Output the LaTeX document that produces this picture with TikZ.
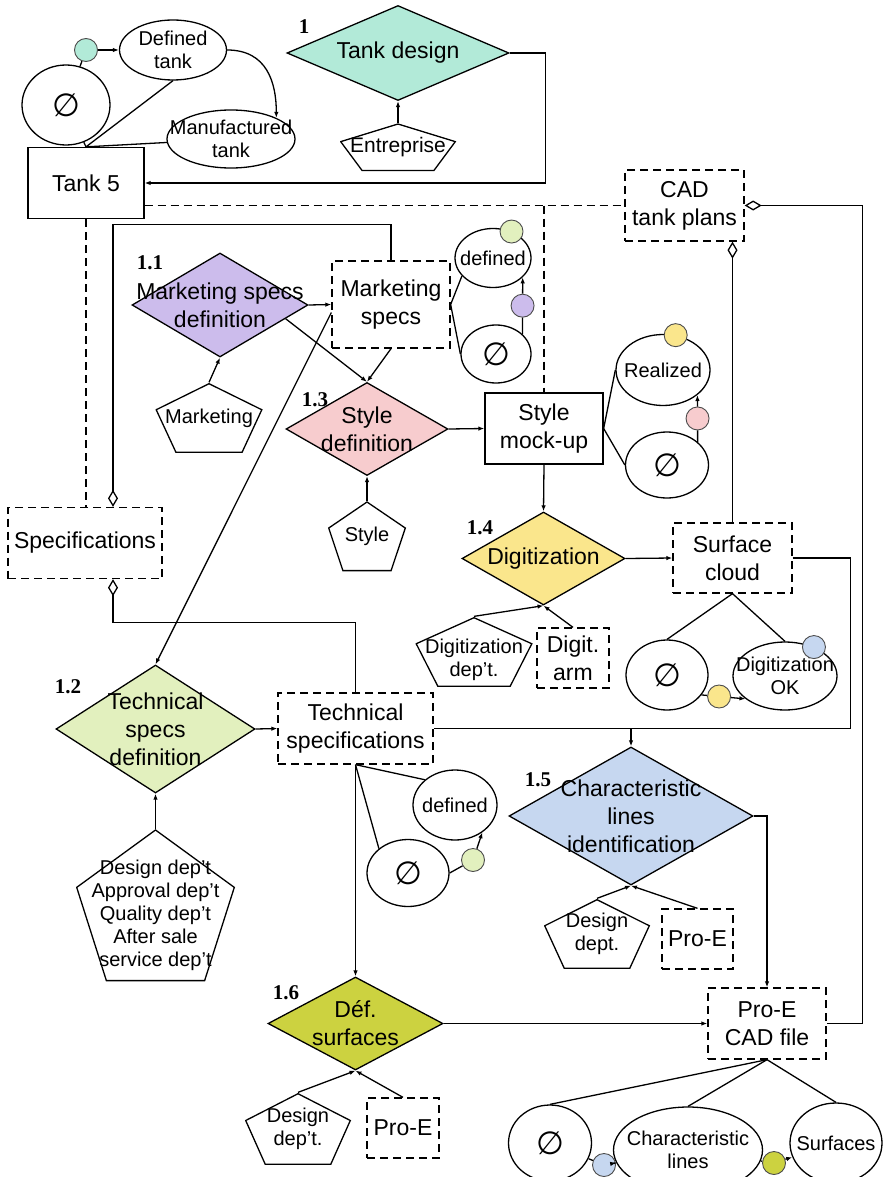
\documentclass[tikz,border=0pt]{standalone}
\usepackage{fontspec}
\setmainfont{Liberation Sans}
\newfontfamily\numfont{Liberation Serif}
\newfontfamily\symfont{DejaVu Sans}
\usetikzlibrary{shapes.geometric,arrows.meta,positioning,calc}
\definecolor{cTank}{RGB}{178,234,216}
\definecolor{cMkt}{RGB}{204,188,236}
\definecolor{cTech}{RGB}{226,240,190}
\definecolor{cStyle}{RGB}{247,204,206}
\definecolor{cDigit}{RGB}{250,230,140}
\definecolor{cLines}{RGB}{198,215,240}
\definecolor{cSurf}{RGB}{204,210,64}
\newcommand{\bigtxt}{\fontsize{23pt}{28pt}\selectfont}
\newcommand{\smtxt}{\fontsize{20pt}{23pt}\selectfont}
\newcommand{\pbb}{path picture bounding box}
\tikzset{
  proc/.style={diamond, draw, inner xsep=-80pt, inner ysep=-40pt, align=center, font=\bigtxt},
  procnum/.style={font=\numfont\fontsize{21pt}{21pt}\selectfont\bfseries, inner sep=0pt},
  obj/.style={rectangle, draw, inner sep=0pt, align=center, font=\bigtxt},
  docobj/.style={obj, dash pattern=on 8pt off 5pt},
  state/.style={ellipse, draw, inner xsep=-60pt, inner ysep=-30pt, align=center, font=\smtxt},
  nul/.style={state, font=\symfont\fontsize{32pt}{32pt}\selectfont},
  dot/.style={circle, draw=black!70, line width=0.9pt, minimum size=23pt, inner sep=0pt},
  actor/.style={rectangle, inner sep=0pt, align=center, font=\smtxt,
    path picture={\draw ($(\pbb.north)+(0,-0.7pt)$)
      -- ($(\pbb.north east)!0.382!(\pbb.south east)+(-0.7pt,0)$)
      -- ($(\pbb.south west)!0.809!(\pbb.south east)+(0,0.7pt)$)
      -- ($(\pbb.south west)!0.191!(\pbb.south east)+(0,0.7pt)$)
      -- ($(\pbb.north west)!0.382!(\pbb.south west)+(0.7pt,0)$) -- cycle;}},
  actortext/.style={inner sep=0pt, align=center, font=\smtxt},
  sz/.style 2 args={minimum width=#1pt, minimum height=#2pt},
  link/.style={dash pattern=on 8pt off 5pt},
  agg/.style={{Diamond[open,length=17pt,width=10pt]}-},
}

\begin{document}
\begin{tikzpicture}[x=1pt, y=1pt, line width=1.3pt, >={Latex[length=6pt,width=4.5pt]}]
\useasboundingbox (0,0) rectangle (885,-1177);

% 1 tank design
\node[proc, fill=cTank, sz={222}{95}] (d1) at (398,-53) {Tank design};
\node[procnum] (n1) at (304,-27) {1};
\node[actor, sz={116}{48}, font=\fontsize{21pt}{25pt}\selectfont, below=21.5pt of d1] (ent) {Entreprise};
\node[obj, sz={116}{71}] (t5) at (86,-183) {Tank 5};
\node[nul, sz={88}{80}] (t5n) at (66,-105) {∅};
\node[state, sz={107}{60}] (t5d) at (173,-50) {Defined\\tank};
\node[state, sz={128}{58}] (t5m) at (231,-139) {Manufactured\\tank};
\node[dot, fill=cTank] (t5c) at (86,-50) {};
\draw (t5.north) -- (t5n);
\draw (t5.north) -- (t5d.south);
\draw (t5.north) -- (t5m);
\draw (t5n) -- (t5c);
\draw[->] (t5c) -- (t5d);
\draw[->] (t5d.east) .. controls +(40pt,0pt) and +(0pt,35pt) .. (t5m.25);
\draw[->] (ent.north) -- (d1.south);
\draw[->] (d1.east) -- ++(36,0) |- (t5.east);

% CAD plans and specifications
\node[docobj, sz={119}{71}] (cad) at (684.5,-205.5) {CAD\\tank plans};
\node[docobj, sz={154}{71}] (spec) at (85,-543) {Specifications};
\draw[link] (cad.west -| t5.east) -- (cad.west);
\draw[link] (t5.south) -- (t5.south |- spec.north);

% 1.1 marketing specs
\node[proc, fill=cMkt, sz={176}{104}] (d11) at (220,-305) {Marketing specs\\definition};
\node[procnum] (n11) at (150,-263) {1.1};
\node[actor, sz={107}{70}] (mkt) at (209,-418) {Marketing};
\node[docobj, sz={118}{87}] (ms) at (391,-304.5) {Marketing\\specs};
\node[state, sz={76}{59}] (msd) at (493,-258) {defined};
\node[nul, sz={70}{58}] (msn) at (496,-354) {∅};
\draw[->] (mkt.north) -- (d11.south);
\draw[->] (d11.east) -- (ms.west);
\draw (ms.east) -- (msd.210);
\draw (ms.east) -- (msn.west);
\node[dot, fill=cMkt] (msc) at ($(msn.37)!0.5!(msd.-33)$) {};
\draw (msn.37) -- (msc);
\draw[->] (msc) -- (msd.-33);
\node[dot, fill=cTech] (msc2) at (msd.55) {};
\draw[agg] ([xshift=28pt]spec.north) |- ([yshift=36pt]ms.north) -- (ms.north);

% 1.3 style
\node[proc, fill=cStyle, sz={162}{93}] (d13) at (367,-429) {Style\\definition};
\node[procnum] (n13) at (315,-400) {1.3};
\node[actor, sz={78}{70}, below=24.5pt of d13] (sty) {Style};
\node[obj, sz={118}{71}] (smu) at (544,-428.5) {Style\\mock-up};
\node[state, sz={94}{71}] (smr) at (663,-370) {Realized};
\node[nul, sz={83}{66}] (smn) at (667,-465) {∅};
\draw[->] (sty.north) -- (d13.south);
\draw[->] (ms.south) -- (d13.north);
\draw[->] ($(d11.east)!0.26!(d11.south)$) -- (d13.north);
\draw[->] (d13.east) -- (smu.west);
\draw (smu.east) -- (smr.west);
\draw (smu.east) -- (smn.west);
\node[dot, fill=cStyle] (smc) at ($(smn.37)!0.5!(smr.-36)$) {};
\draw (smn.37) -- (smc);
\draw[->] (smc) -- (smr.-36);
\node[dot, fill=cDigit] (smc2) at (smr.70) {};
\draw[link] (cad.west -| smu.north) -- (smu.north);

% 1.4 digitization
\node[proc, fill=cDigit, sz={163}{93}] (d14) at (543.5,-558.5) {Digitization};
\node[procnum] (n14) at (480,-528) {1.4};
\node[actor, sz={117}{70}] (dgd) at (474,-652) {};
\node[actortext] (dgdt) at ([yshift=-8pt]dgd.center) {Digitization\\dep't.};
\node[docobj, sz={72}{60}] (dga) at (573,-658) {Digit.\\arm};
\node[docobj, sz={119}{70}] (sc) at (732.5,-558) {Surface\\cloud};
\node[nul, sz={82}{70}] (scn) at (667,-675) {∅};
\node[state, sz={104}{68}] (sco) at (785,-676) {Digitization\\OK};
\draw[->] (smu.south) -- (d14.north);
\draw[->] (dgd.north) -- (d14.south);
\draw[->] (dga.north) -- (d14.south);
\draw[->] (d14.east) -- (sc.west);
\draw (sc.south) -- (scn.north);
\draw (sc.south) -- (sco.north);
\node[dot, fill=cDigit] (scc) at ($(scn.-30)!0.4!(sco.-150)$) {};
\draw (scn.-30) -- (scc);
\draw[->] (scc) -- (sco.-150);
\node[dot, fill=cLines] (scc2) at (sco.45) {};
\draw[agg] (sc.north |- cad.south) -- (sc.north);

% 1.2 technical specs
\node[proc, fill=cTech, sz={199}{128}] (d12) at (155.5,-729) {Technical\\specs\\definition};
\node[procnum] (n12) at (68,-687) {1.2};
\node[actor, sz={159}{152}, below=35pt of d12] (dsg) {};
\node[actortext] (dsgt) at ([yshift=-10pt]dsg.center) {Design dep't\\Approval dep't\\Quality dep't\\After sale\\service dep't};
\node[docobj, sz={155}{71}] (tsp) at (355.5,-728.5) {Technical\\specifications};
\node[state, sz={84}{70}] (tsd) at (455,-805) {defined};
\node[nul, sz={82}{67}] (tsn) at (408,-873) {∅};
\node[dot, fill=cTech] (tsc) at (473,-860) {};
\draw[->] (dsg.north) -- (d12.south);
\draw[->] (d12.east) -- (tsp.west);
\draw[->] ([yshift=-8pt]ms.west) -- (d12.north);
\draw[agg] ([xshift=28pt]spec.south) |- ([yshift=70pt]tsp.north) -- (tsp.north);
\draw (tsp.south) -- (tsd.140);
\draw (tsp.south) -- (tsn.140);
\draw (tsn.east) -- (tsc);
\draw[->] (tsc) -- (tsd.-45);

% 1.5 characteristic lines
\node[proc, fill=cLines, sz={244}{138}] (d15) at (631,-816) {Characteristic\\lines\\identification};
\node[procnum] (n15) at (538,-780) {1.5};
\node[actor, sz={106}{70}] (ldd) at (597,-934) {Design\\dept.};
\node[docobj, sz={71}{60}] (lpe) at (697.5,-939) {Pro-E};
\coordinate (scr) at ([xshift=58pt]sc.east);
\draw (sc.east) -- (scr) |- (tsp.east);
\draw[->] (d15.north |- tsp.east) -- (d15.north);
\draw[->] (ldd.north) -- (d15.south);
\draw[->] (lpe.north) -- (d15.south);

% 1.6 surfaces
\node[proc, fill=cSurf, sz={175}{93}] (d16) at (355.5,-1023.5) {Déf.\\surfaces};
\node[procnum] (n16) at (286,-993) {1.6};
\node[actor, sz={106}{72}] (sdd) at (298,-1129) {Design\\dep't.};
\node[docobj, sz={72}{60}] (spe) at (403,-1128) {Pro-E};
\node[docobj, sz={118}{71}] (pcf) at (767,-1023.5) {Pro-E\\CAD file};
\node[nul, sz={83}{76}] (pcn) at (550,-1143) {∅};
\node[state, sz={149}{86}] (pcl) at (688,-1150) {Characteristic\\lines};
\node[state, sz={92}{80}] (pcs) at (836,-1143) {Surfaces};
\draw[->] (tsp.south) -- (d16.north);
\draw[->] (sdd.north) -- (d16.south);
\draw[->] (spe.north) -- (d16.south);
\draw[->] (d16.east) -- (pcf.west);
\draw[->] (d15.east) -| (pcf.north);
\draw[agg] (cad.east) -- ++(117.5,0) |- (pcf.east);
\draw (pcf.south) -- (pcn.north);
\draw (pcf.south) -- (pcl.north);
\draw (pcf.south) -- (pcs.north);
\node[dot, fill=cLines] (pcc) at (604,-1165) {};
\node[dot, fill=cSurf] (pcc2) at (774,-1163) {};
\draw (pcn) -- (pcc);
\draw[->] (pcc) -- (pcl);
\draw (pcl) -- (pcc2);
\draw[->] (pcc2) -- (pcs);
\end{tikzpicture}
\end{document}
